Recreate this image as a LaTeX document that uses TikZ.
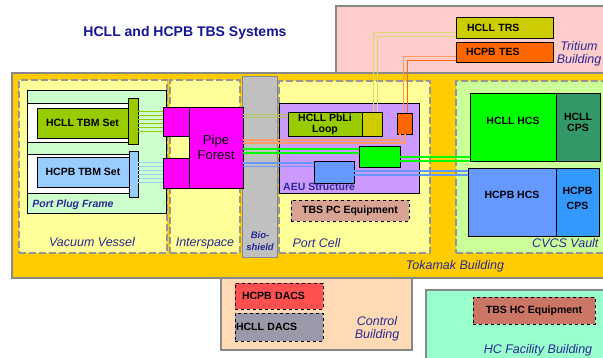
\documentclass[tikz,border=0pt]{standalone}
\usepackage{fontspec}
\setmainfont{Liberation Sans}
\begin{document}
\begin{tikzpicture}[x=1pt, y=-1pt,
    box/.style={draw, shape=rectangle, anchor=north west, inner sep=0pt, outer sep=0pt, line width=0.8pt, align=center, font=\bfseries\fontsize{10.5}{11}\selectfont},
    building/.style={box, draw=bldgray, line width=2pt},
    zone/.style={box, draw=zonegray, line width=1.4pt, dash pattern=on 7pt off 3pt, fill=zoneyellow},
    equip/.style={box, dashed, line width=0.6pt},
    lefttext/.style={text width=#1, align=left},
    liftup/.style={text depth=#1},
    lbl/.style={font=\itshape\fontsize{12.5}{13.5}\selectfont, text=lblblue, align=center},
    pipe/.style={line width=1pt}]
    \definecolor{bldgray}{RGB}{136,136,136}
    \definecolor{zonegray}{RGB}{150,150,150}
    \definecolor{zoneyellow}{RGB}{255,255,153}
    \definecolor{lblblue}{RGB}{40,40,150}
    \definecolor{titleblue}{RGB}{20,20,150}
    \definecolor{tritpink}{RGB}{255,204,204}
    \definecolor{tokgold}{RGB}{255,204,0}
    \definecolor{ppfgreen}{RGB}{204,255,204}
    \definecolor{tbmgreen}{RGB}{153,204,0}
    \definecolor{tbmblue}{RGB}{153,204,255}
    \definecolor{pfmagenta}{RGB}{255,0,255}
    \definecolor{bsgray}{RGB}{192,192,192}
    \definecolor{aeupurple}{RGB}{204,153,255}
    \definecolor{olive}{RGB}{204,204,0}
    \definecolor{orng}{RGB}{255,102,0}
    \definecolor{salmon}{RGB}{255,153,102}
    \definecolor{brgreen}{RGB}{0,255,0}
    \definecolor{hcsblue}{RGB}{102,153,255}
    \definecolor{cpsblue}{RGB}{51,153,255}
    \definecolor{cpsgreen}{RGB}{51,153,102}
    \definecolor{cvcsgreen}{RGB}{204,255,153}
    \definecolor{pcpink}{RGB}{216,163,147}
    \definecolor{peach}{RGB}{255,218,180}
    \definecolor{dacsred}{RGB}{255,80,80}
    \definecolor{dacsgray}{RGB}{153,153,170}
    \definecolor{mint}{RGB}{153,255,204}
    \definecolor{hcbrown}{RGB}{204,119,102}
    \definecolor{trsline}{RGB}{216,216,110}
    \definecolor{pbline}{RGB}{181,201,90}
    \useasboundingbox (0,0) rectangle (603,357);
    \clip (0,0) rectangle (603,357);
    % title
    \node[font=\bfseries\fontsize{14}{16}\selectfont, text=titleblue] (title) at (185,33) {HCLL and HCPB TBS Systems};
    % buildings
    \node[building, fill=tritpink, minimum width=300pt, minimum height=67pt] (trit) at (336,6) {};
    \node[building, fill=tokgold, minimum width=620pt, minimum height=205pt] (tok) at (12,73) {};
    \node[building, fill=peach, minimum width=191pt, minimum height=72pt] (ctrl) at (221,278) {};
    \node[building, fill=mint, minimum width=200pt, minimum height=80pt] (hcf) at (426,290) {};
    % zones inside the tokamak building
    \node[zone, minimum width=148pt, minimum height=173pt] (vv) at (19,80) {};
    \node[zone, minimum width=70pt, minimum height=173pt] (isp) at (170,80) {};
    \node[zone, minimum width=151pt, minimum height=172pt] (pc) at (279,81) {};
    \node[zone, fill=cvcsgreen, minimum width=170pt, minimum height=172pt] (cvcs) at (456,81) {};
    \node[box, draw=bldgray, fill=bsgray, minimum width=35pt, minimum height=181pt] (bs) at (242,76) {};
    % port plug
    \node[box, fill=ppfgreen, minimum width=139pt, minimum height=123pt] (ppf) at (27,90) {};
    \node[box, fill=white, minimum width=101pt, minimum height=39pt] (hcllstrip) at (27,103) {};
    \node[box, fill=white, minimum width=102pt, minimum height=39pt] (hcpbstrip) at (27,154) {};
    \node[box, fill=tbmgreen, minimum width=91pt, minimum height=30pt] (hclltbm) at (37,108) {HCLL TBM Set};
    \node[box, fill=tbmblue, minimum width=92pt, minimum height=30pt] (hcpbtbm) at (37,157) {HCPB TBM Set};
    \node[box, fill=tbmgreen, minimum width=10pt, minimum height=46pt] (hcllbar) at (128,98) {};
    \node[box, fill=tbmblue, minimum width=9pt, minimum height=46pt] (hcpbbar) at (129,151) {};
    % pipe forest
    \node[box, fill=pfmagenta, minimum width=26pt, minimum height=29pt] (pfup) at (163,107) {};
    \node[box, fill=pfmagenta, minimum width=26pt, minimum height=30pt] (pflow) at (163,158) {};
    \node[box, fill=pfmagenta, minimum width=54pt, minimum height=81pt, font=\fontsize{13}{15}\selectfont] (pf) at (189,107) {Pipe\\Forest};
    % port cell
    \node[box, fill=aeupurple, minimum width=140pt, minimum height=90pt] (aeu) at (279,103) {};
    \node[box, fill=tbmgreen, minimum width=74pt, minimum height=24pt] (pbli) at (288,112) {HCLL PbLi\\Loop};
    \node[box, fill=olive, minimum width=20pt, minimum height=24pt] (pbliol) at (362,112) {};
    \node[box, fill=orng, minimum width=15pt, minimum height=21pt] (orbox) at (397,113) {};
    \node[box, fill=brgreen, minimum width=41pt, minimum height=21pt] (grbox) at (359,146) {};
    \node[box, fill=hcsblue, minimum width=40pt, minimum height=22pt] (blbox) at (314,161) {};
    \node[anchor=west, inner sep=0pt, text=lblblue, font=\bfseries\fontsize{10.5}{12}\selectfont] (aeulbl) at (283,187) {AEU Structure};
    \node[equip, fill=pcpink, minimum width=118pt, minimum height=21pt] (tbspc) at (291,200) {TBS PC Equipment};
    % cvcs vault
    \node[box, fill=brgreen, liftup=12pt, minimum width=86pt, minimum height=68pt] (hcllhcs) at (470,93) {HCLL HCS};
    \node[box, fill=cpsgreen, liftup=10pt, minimum width=44pt, minimum height=68pt] (hcllcps) at (556,93) {HCLL\\CPS};
    \node[box, fill=hcsblue, liftup=14pt, minimum width=88pt, minimum height=68pt] (hcpbhcs) at (468,168) {HCPB HCS};
    \node[box, fill=cpsblue, liftup=8pt, minimum width=43pt, minimum height=68pt, font=\bfseries\fontsize{10.5}{15}\selectfont] (hcpbcps) at (556,168) {HCPB\\CPS};
    % tritium building
    \node[box, fill=olive, lefttext=75pt, minimum width=97pt, minimum height=21pt] (trs) at (456,17) {HCLL TRS};
    \node[box, fill=orng, lefttext=77pt, minimum width=97pt, minimum height=20pt] (tes) at (456,42) {HCPB TES};
    % control and hc facility
    \node[equip, fill=dacsred, lefttext=74pt, minimum width=88pt, minimum height=26pt] (hcpbdacs) at (235,283) {HCPB DACS};
    \node[equip, fill=dacsgray, lefttext=86pt, minimum width=88pt, minimum height=28pt] (hclldacs) at (235,313) {HCLL DACS};
    \node[equip, fill=hcbrown, minimum width=122pt, minimum height=27pt] (tbshc) at (473,297) {TBS HC Equipment};
    % pipes
    \foreach \y in {111,115,...,131}
        \draw[pipe, tbmgreen] (hcllbar.east |- 0,\y) -- (pfup.west |- 0,\y);
    \foreach \y in {162,166,...,182}
        \draw[pipe, tbmblue] (hcpbbar.east |- 0,\y) -- (pflow.west |- 0,\y);
    \draw[pipe, pbline] (pf.east |- 0,114) -- (pbli.west |- 0,114);
    \draw[pipe, pbline] (pf.east |- 0,117) -- (pbli.west |- 0,117);
    \draw[pipe, trsline] (trs.west |- 0,32) -| (pbliol.north -| 373,0);
    \draw[pipe, trsline] (trs.west |- 0,36) -| (pbliol.north -| 377,0);
    \draw[pipe, salmon] (tes.west |- 0,56) -| (orbox.north -| 403,0);
    \draw[pipe, orng] (tes.west |- 0,60) -| (orbox.north -| 407,0);
    \draw[pipe, salmon, line width=1.3pt] (pf.east |- 0,140) -| (orbox.south -| 400,0);
    \draw[pipe, salmon, line width=1.3pt] (pf.east |- 0,143) -| (orbox.south -| 405,0);
    \draw[pipe, brgreen, line width=2pt] (pf.east |- 0,149) -- (grbox.west |- 0,149);
    \draw[pipe, brgreen, line width=2pt] (pf.east |- 0,152.5) -- (grbox.west |- 0,152.5);
    \draw[pipe, brgreen, line width=2pt] (grbox.east |- 0,157) -- (hcllhcs.west |- 0,157);
    \draw[pipe, brgreen, line width=2pt] (grbox.east |- 0,160.5) -- (hcllhcs.west |- 0,160.5);
    \draw[pipe, hcsblue, line width=1.5pt] (pf.east |- 0,163) -- (blbox.west |- 0,163);
    \draw[pipe, hcsblue, line width=1.5pt] (pf.east |- 0,166.5) -- (blbox.west |- 0,166.5);
    \draw[pipe, hcsblue, line width=1.5pt] (blbox.east |- 0,171) -- (hcpbhcs.west |- 0,171);
    \draw[pipe, hcsblue, line width=1.5pt] (blbox.east |- 0,175) -- (hcpbhcs.west |- 0,175);
    % labels
    \node[lbl] (tritlbl) at (579,54) {Tritium\\Building};
    \node[lbl] (vvlbl) at (92,242) {Vacuum Vessel};
    \node[lbl] (isplbl) at (205,243) {Interspace};
    \node[lbl, font=\bfseries\itshape\fontsize{9.5}{12}\selectfont] (bslbl) at (260,241) {Bio-\\shield};
    \node[lbl, anchor=west] (pclbl) at (289,243) {Port Cell};
    \node[lbl, anchor=east] (cvcslbl) at (602,243) {CVCS Vault};
    \node[lbl] (toklbl) at (455,266) {Tokamak Building};
    \node[lbl, font=\bfseries\itshape\fontsize{10.5}{12}\selectfont] (ppflbl) at (73,205) {Port Plug Frame};
    \node[lbl] (ctrllbl) at (377,329) {Control\\Building};
    \node[lbl] (hcflbl) at (538,350) {HC Facility Building};
\end{tikzpicture}
\end{document}
